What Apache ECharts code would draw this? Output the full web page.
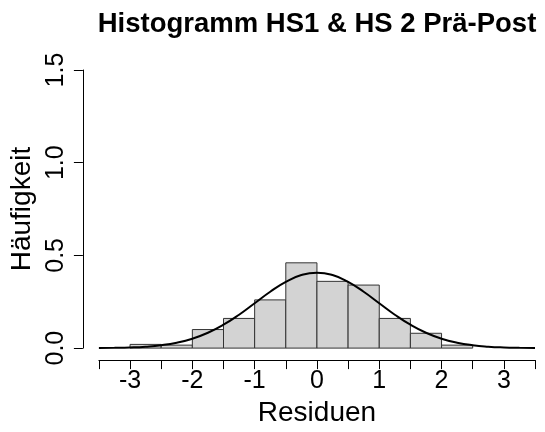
<!DOCTYPE html>
<html>
<head>
<meta charset="utf-8">
<script src="https://cdn.jsdelivr.net/npm/echarts@6/dist/echarts.min.js"></script>
<style>
  html, body { margin: 0; padding: 0; background: #fff; }
  #chart { width: 545px; height: 432px; }
</style>
</head>
<body>
<div id="chart"></div>
<script>
// Histogram bins (left edge, right edge) and their density heights
const binStarts  = [-3.0, -2.5, -2.0, -1.5, -1.0, -0.5, 0.0, 0.5, 1.0, 1.5, 2.0];
const binEnds    = [-2.5, -2.0, -1.5, -1.0, -0.5, 0.0, 0.5, 1.0, 1.5, 2.0, 2.5];
const binHeights = [0.02, 0.016, 0.10, 0.16, 0.26, 0.46, 0.36, 0.34, 0.16, 0.08, 0.016];

// Fitted normal density curve
const curveX = [-3.5, -3.25, -3.0, -2.75, -2.5, -2.25, -2.0, -1.75, -1.5, -1.25, -1.0, -0.75, -0.5, -0.25,
                0.0, 0.25, 0.5, 0.75, 1.0, 1.25, 1.5, 1.75, 2.0, 2.25, 2.5, 2.75, 3.0, 3.25, 3.5];
const curveY = [0.0007, 0.0017, 0.0037, 0.0079, 0.0157, 0.0292, 0.0508, 0.0827, 0.126, 0.180, 0.242, 0.304, 0.357, 0.394,
                0.407, 0.394, 0.357, 0.304, 0.242, 0.180, 0.126, 0.0827, 0.0508, 0.0292, 0.0157, 0.0079, 0.0037, 0.0017, 0.0007];

// Axis tick labels
const xTickLabels = ['-3', '-2', '-1', '0', '1', '2', '3'];
const yTickLabels = ['0.0', '0.5', '1.0', '1.5'];

const FONT = "'Liberation Sans', Arial, Helvetica, sans-serif";

const barData = binStarts.map((s, i) => [s, binEnds[i], binHeights[i]]);
const lineData = curveX.map((x, i) => [x, curveY[i]]);

const chart = echarts.init(document.getElementById('chart'), null, { renderer: 'canvas' });

chart.setOption({
  animation: false,
  backgroundColor: '#ffffff',
  title: {
    text: 'Histogramm HS1 & HS 2 Prä-Post',
    left: 317,
    top: 10,
    padding: 0,
    textAlign: 'center',
    textStyle: { fontFamily: FONT, fontWeight: 'bold', fontSize: 27.5, color: '#000' }
  },
  grid: { left: 97, right: 10, top: 70, bottom: 73, containLabel: false },
  xAxis: {
    type: 'value',
    min: -3.5,
    max: 3.5,
    interval: 0.5,
    offset: 12,
    name: 'Residuen',
    nameLocation: 'middle',
    nameGap: 31,
    nameTextStyle: { fontFamily: FONT, fontSize: 28, color: '#000' },
    axisLine: { show: true, onZero: false, lineStyle: { color: '#000', width: 1 } },
    axisTick: { show: true, length: 9, inside: false, lineStyle: { color: '#000', width: 1 } },
    axisLabel: {
      fontFamily: FONT, fontSize: 25, color: '#000', margin: 9,
      formatter: v => {
        const idx = xTickLabels.indexOf(String(v));
        return Number.isInteger(v) && idx >= 0 ? xTickLabels[idx] : '';
      }
    },
    splitLine: { show: false }
  },
  yAxis: {
    type: 'value',
    min: 0,
    max: 1.5,
    interval: 0.5,
    offset: 16,
    name: 'Häufigkeit',
    nameLocation: 'middle',
    nameGap: 41,
    nameTextStyle: { fontFamily: FONT, fontSize: 28, color: '#000' },
    axisLine: { show: true, onZero: false, lineStyle: { color: '#000', width: 1 } },
    axisTick: { show: true, length: 9, lineStyle: { color: '#000', width: 1 } },
    axisLabel: {
      fontFamily: FONT, fontSize: 25, color: '#000', margin: 14, rotate: 90,
      formatter: v => yTickLabels[Math.round(v / 0.5)] || ''
    },
    splitLine: { show: false }
  },
  series: [
    {
      type: 'custom',
      data: barData,
      encode: { x: [0, 1], y: 2 },
      renderItem: (params, api) => {
        const p0 = api.coord([api.value(0), 0]);
        const p1 = api.coord([api.value(1), api.value(2)]);
        return {
          type: 'rect',
          shape: { x: p0[0], y: p1[1], width: p1[0] - p0[0], height: p0[1] - p1[1] },
          style: { fill: '#d3d3d3', stroke: '#333', lineWidth: 1 }
        };
      },
      z: 2
    },
    {
      type: 'line',
      data: lineData,
      smooth: true,
      symbol: 'none',
      lineStyle: { color: '#000', width: 2 },
      z: 3
    }
  ]
});
</script>
</body>
</html>
